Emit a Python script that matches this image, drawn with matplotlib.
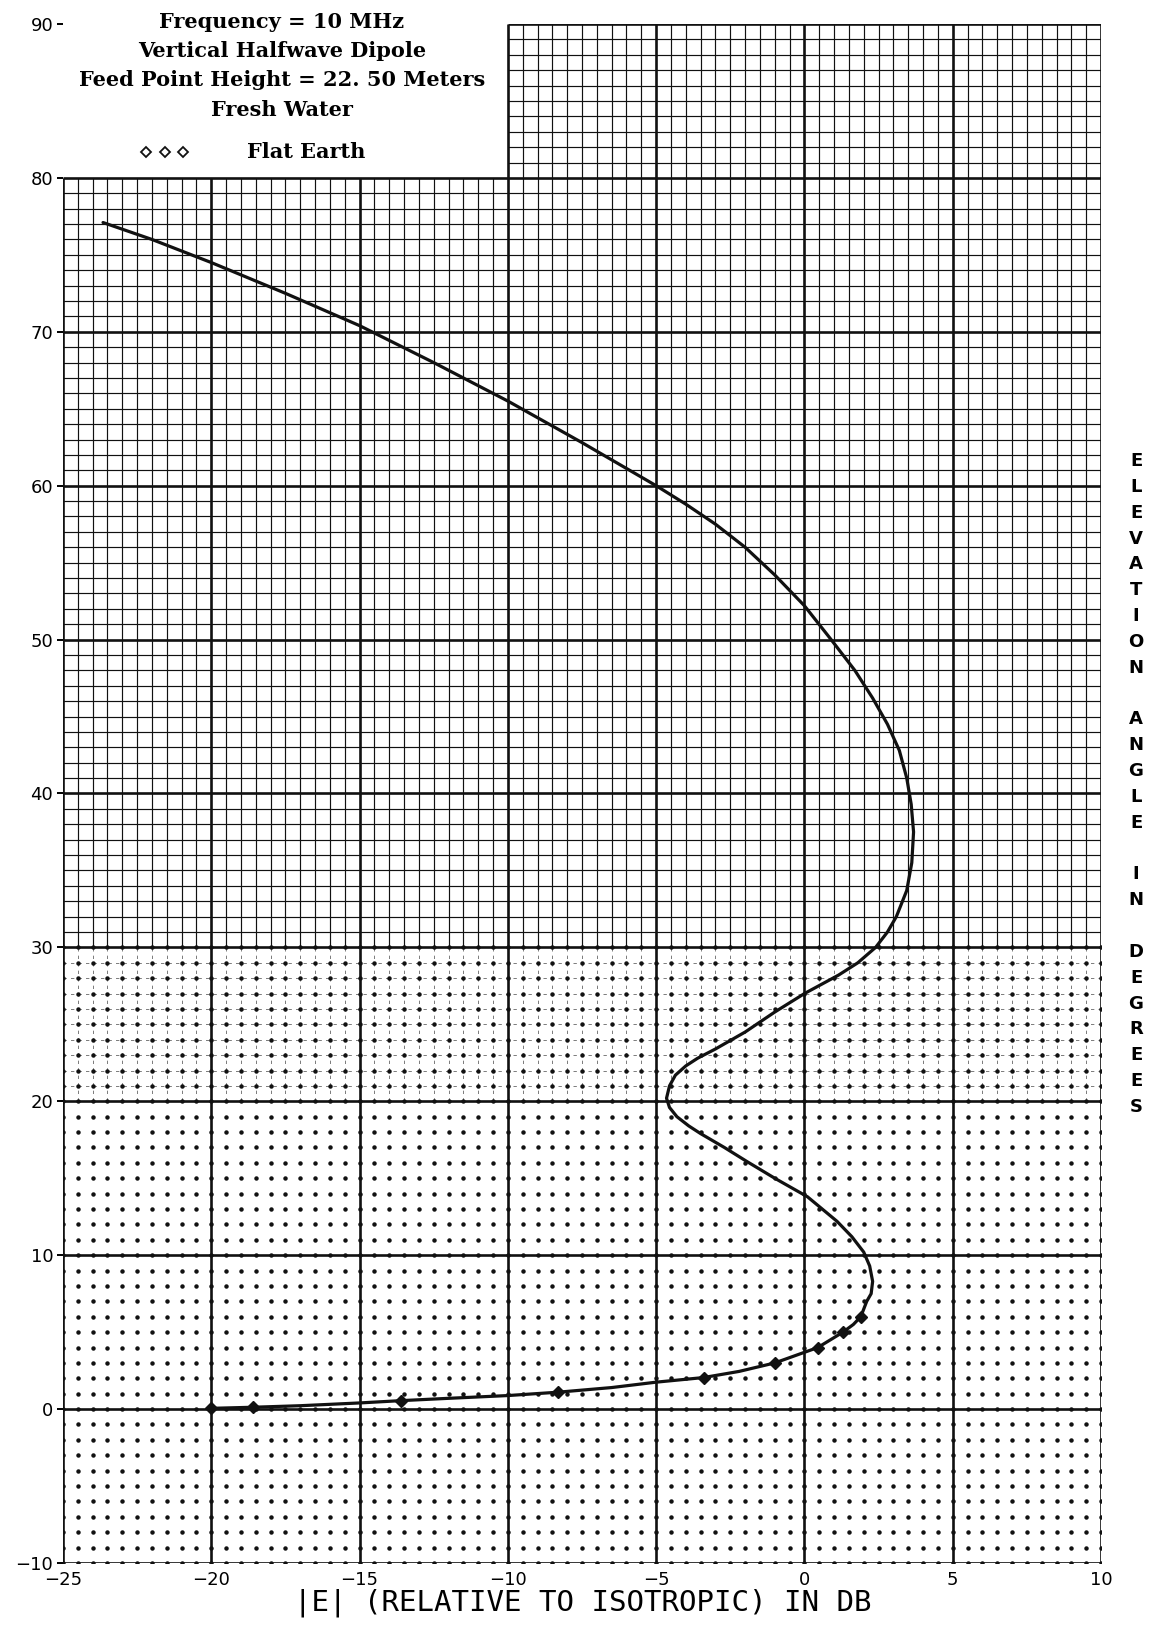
import numpy as np
import matplotlib
matplotlib.use("Agg")
import matplotlib.pyplot as plt

# computed pattern (solid line), gain in dB vs elevation angle in degrees
gain_db = [-23.65, -22.0, -20.0, -17.5, -15.0, -12.5, -10.0, -7.5, -5.0,
           -4.0, -3.0, -2.0, -1.0, 0.0, 0.9, 1.7, 2.3, 2.8, 3.2, 3.45, 3.6,
           3.68, 3.62, 3.45, 3.1, 2.8, 2.4, 1.8, 1.15, 0.0, -1.0, -2.0, -3.0,
           -3.6, -4.0, -4.35, -4.55, -4.65, -4.55, -4.3, -3.9, -3.5, -2.7,
           -1.95, -1.0, 0.1, 0.6, 1.1, 1.6, 2.0, 2.2, 2.3, 2.25, 2.1, 1.9,
           1.65, 1.3, 0.45, -1.0, -2.2, -3.4, -4.2, -5.0, -6.5, -8.3, -10.0,
           -12.0, -13.6, -15.0, -17.0, -18.6, -20.0]
elev_deg = [77.1, 76.0, 74.5, 72.5, 70.4, 68.0, 65.5, 62.8, 60.0,
            58.8, 57.5, 56.0, 54.2, 52.2, 50.0, 48.0, 46.2, 44.5, 42.8, 41.0, 39.3,
            37.5, 35.5, 33.7, 32.0, 31.0, 30.0, 29.0, 28.2, 27.0, 25.8, 24.5, 23.4,
            22.8, 22.3, 21.7, 21.0, 20.2, 19.6, 19.0, 18.4, 17.9, 17.0,
            16.1, 15.0, 13.8, 13.0, 12.2, 11.2, 10.2, 9.3, 8.3, 7.5, 7.0, 6.0,
            5.5, 5.0, 4.0, 3.0, 2.45, 2.05, 1.9, 1.75, 1.4, 1.1, 0.88,
            0.7, 0.55, 0.4, 0.22, 0.12, 0.05]

# flat earth points
flat_db = [-20.0, -18.6, -13.6, -8.3, -3.4, -1.0, 0.45, 1.3, 1.9]
flat_deg = [0.05, 0.12, 0.55, 1.1, 2.05, 3.0, 4.0, 5.0, 6.0]

x_ticks = [-25, -20, -15, -10, -5, 0, 5, 10]
y_ticks = [-10, 0, 10, 20, 30, 40, 50, 60, 70, 80, 90]

title_lines = ["Frequency = 10 MHz", "Vertical Halfwave Dipole",
               "Feed Point Height = 22. 50 Meters", "Fresh Water"]

W, H = 1150, 1625
fig = plt.figure(figsize=(W / 100, H / 100), dpi=100)
ax = fig.add_axes([63 / W, 1 - 1563 / H, (1101 - 63) / W, (1563 - 24) / H])
ax.set_xlim(-25, 10)
ax.set_ylim(-10, 90)
for s in ax.spines.values():
    s.set_visible(False)

ink = "#111111"
# label box in the upper left corner has no grid
box_x, box_y = -10, 80

# minor grid: solid lines from 30 deg up, dashed 20-30, dots below
minor_x = [v for v in np.arange(-25, 10.01, 0.5) if v % 5 != 0]
minor_y = [v for v in range(-10, 91) if v % 10 != 0]
for xv in minor_x:
    top = 90 if xv > box_x else box_y
    ax.vlines(xv, 30, top, color=ink, lw=0.85, zorder=1)
    ax.vlines(xv, 20, 30, color="#666666", lw=0.6, linestyles=(0, (4, 5)), zorder=1)
for yv in minor_y:
    if yv > 30:
        left = box_x if yv > box_y else -25
        ax.hlines(yv, left, 10, color=ink, lw=0.85, zorder=1)
    elif yv > 20:
        ax.hlines(yv, -25, 10, color="#666666", lw=0.6, linestyles=(0, (4, 5)), zorder=1)
gx, gy = np.meshgrid(np.arange(-25, 10.01, 0.5), np.arange(-10, 30.01, 1))
ax.plot(gx.ravel(), gy.ravel(), ls="none", marker="o", ms=2.2, color=ink, zorder=1)

# major grid, doubling as the frame
for xv in x_ticks:
    top = 90 if xv >= box_x else box_y
    ax.vlines(xv, -10, top, color=ink, lw=1.9, zorder=2)
for yv in y_ticks:
    left = box_x if yv > box_y else -25
    ax.hlines(yv, left, 10, color=ink, lw=1.9, zorder=2)

ax.plot(gain_db, elev_deg, color=ink, lw=2.3, zorder=3,
        solid_capstyle="round", solid_joinstyle="round")
ax.plot(flat_db, flat_deg, ls="none", marker="D", ms=6, color=ink, zorder=4)

ax.set_xticks(x_ticks)
ax.set_yticks(y_ticks)
ax.tick_params(axis="x", length=0, pad=6, labelsize=13)
ax.tick_params(axis="y", length=4, width=1.4, pad=3, labelsize=13)
for lab in ax.get_xticklabels() + ax.get_yticklabels():
    lab.set_fontfamily("DejaVu Sans")

# heading
for i, line in enumerate(title_lines):
    fig.text(282 / W, 1 - (22 + 29.2 * i) / H, line, ha="center", va="center",
             fontsize=15, family="DejaVu Serif", fontweight="bold")
ax.plot([-22.2, -21.55, -20.96], [81.7, 81.7, 81.7], ls="none", marker="D",
        ms=5, mfc="white", mec=ink, mew=1.3, clip_on=False, zorder=5)
fig.text(306 / W, 1 - 152 / H, "Flat Earth", ha="center", va="center",
         fontsize=15, family="DejaVu Serif", fontweight="bold")

fig.text(583 / W, 1 - 1603 / H, "|E| (RELATIVE TO ISOTROPIC) IN DB",
         ha="center", va="center", fontsize=21, family="DejaVu Sans Mono")
fig.text(1136 / W, 1 - 784 / H, "\n".join("ELEVATION ANGLE IN DEGREES"),
         ha="center", va="center", fontsize=13, family="DejaVu Sans",
         fontweight="bold", linespacing=1.56)

fig.savefig("out.png", dpi=100, facecolor="white")
